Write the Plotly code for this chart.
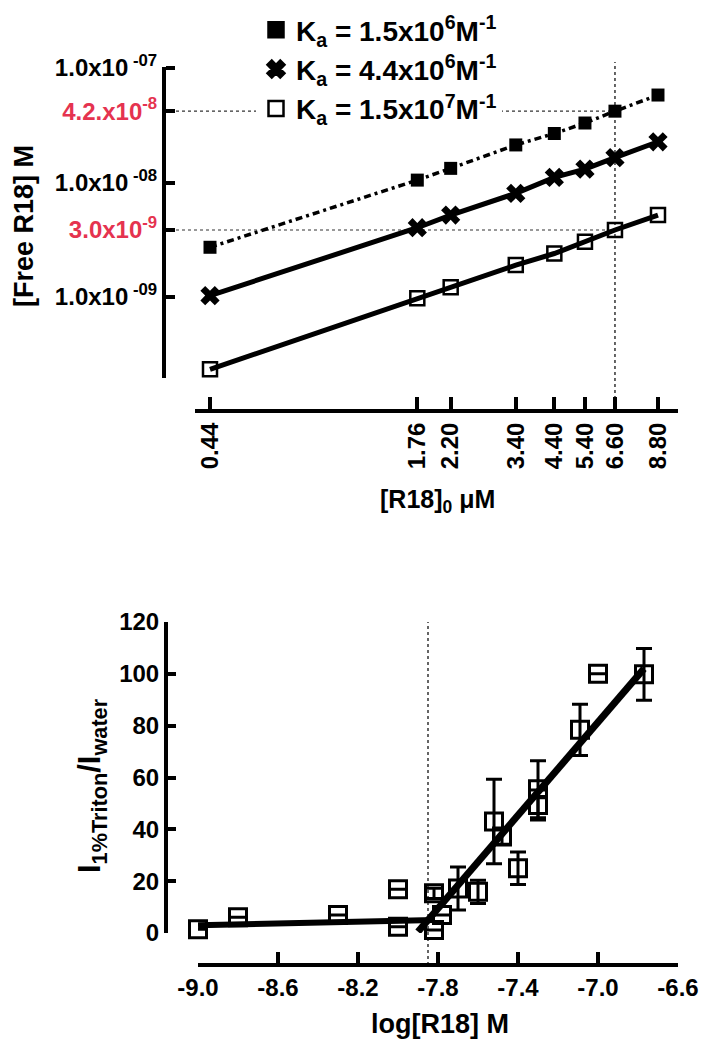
import plotly.graph_objects as go
import math

# ---------------- data: top panel ----------------
r18_total_uM = [0.44, 1.76, 2.20, 3.40, 4.40, 5.40, 6.60, 8.80]
free_ka_15e6 = [2.72e-9, 1.05e-8, 1.33e-8, 2.13e-8, 2.68e-8, 3.31e-8, 4.2e-8, 5.81e-8]
free_ka_44e6 = [1.03e-9, 4.03e-9, 5.20e-9, 8.05e-9, 1.11e-8, 1.31e-8, 1.65e-8, 2.27e-8]
free_ka_15e7 = [2.34e-10, 9.75e-10, 1.22e-9, 1.90e-9, 2.40e-9, 3.04e-9, 3.85e-9, 5.20e-9]
x_tick_labels = ["0.44", "1.76", "2.20", "3.40", "4.40", "5.40", "6.60", "8.80"]
legend_names = [
    "K<sub>a</sub> = 1.5x10<sup>6</sup>M<sup>-1</sup>",
    "K<sub>a</sub> = 4.4x10<sup>6</sup>M<sup>-1</sup>",
    "K<sub>a</sub> = 1.5x10<sup>7</sup>M<sup>-1</sup>",
]
ref_index = 6  # 6.60 uM reference
y_tick_text = ["1.0x10<sup> -07</sup>", "4.2.x10<sup>-8</sup>", "1.0x10<sup> -08</sup>",
               "3.0x10<sup>-9</sup>", "1.0x10<sup> -09</sup>"]

# ---------------- data: bottom panel ----------------
log_r18 = [-9.0, -8.8, -8.3, -8.0, -8.0, -7.82, -7.82, -7.78, -7.70, -7.60,
           -7.52, -7.48, -7.40, -7.30, -7.30, -7.09, -7.0, -6.77]
intensity_ratio = [1.4, 6.1, 6.9, 16.9, 2.4, 15.3, 1.2, 6.9, 17.2, 15.9,
                   43.0, 37.2, 25.0, 49.4, 55.5, 78.4, 100.0, 99.8]
ratio_err = [0, 0, 0, 0, 0, 2.0, 0, 0, 8.3, 4.5,
             16.3, 3.0, 6.3, 5.8, 11.0, 9.9, 0, 10.0]
fit_low_x = [-9.0, -7.82]
fit_low_y = [3.0, 5.0]
fit_high_x = [-7.9, -6.77]
fit_high_y = [0.5, 102.0]
threshold_log = -7.85
bottom_x_ticks = [-9.0, -8.6, -8.2, -7.8, -7.4, -7.0, -6.6]
bottom_y_ticks = [0, 20, 40, 60, 80, 100, 120]

W, H = 709, 1050
RED = "#e5334f"
FONT = "Liberation Sans, Arial, sans-serif"

def px(v):
    return v / W

def py(v):
    return 1 - v / H

fig = go.Figure()

# top panel traces
fig.add_trace(go.Scatter(x=r18_total_uM, y=free_ka_15e6, mode="lines+markers",
                         line=dict(color="black", width=3.5, dash="7px,4px,3px,4px"),
                         marker=dict(symbol="square", size=13, color="black"),
                         showlegend=False, cliponaxis=False))
fig.add_trace(go.Scatter(x=r18_total_uM, y=free_ka_44e6, mode="lines+markers",
                         line=dict(color="black", width=5),
                         marker=dict(symbol="x", size=17, color="black"),
                         showlegend=False, cliponaxis=False))
fig.add_trace(go.Scatter(x=r18_total_uM, y=free_ka_15e7, mode="lines+markers",
                         line=dict(color="black", width=5),
                         marker=dict(symbol="square-open", size=14, color="black",
                                     line=dict(width=2.5, color="black")),
                         showlegend=False, cliponaxis=False))
# legend-only entries
for i, (sym, name) in enumerate(zip(["square", "x", "square-open"], legend_names)):
    fig.add_trace(go.Scatter(x=[None], y=[None], mode="markers", name=name,
                             legendgroup=str(i),
                             marker=dict(symbol=sym, size=15, color="black",
                                         line=dict(width=2.5, color="black"))))

# bottom panel traces
fig.add_trace(go.Scatter(x=fit_low_x, y=fit_low_y, mode="lines", xaxis="x2", yaxis="y2",
                         line=dict(color="black", width=6), showlegend=False))
fig.add_trace(go.Scatter(x=fit_high_x, y=fit_high_y, mode="lines", xaxis="x2", yaxis="y2",
                         line=dict(color="black", width=7), showlegend=False, cliponaxis=False))
fig.add_trace(go.Scatter(x=log_r18, y=intensity_ratio, mode="markers", xaxis="x2", yaxis="y2",
                         marker=dict(symbol="square-open", size=17, color="black",
                                     line=dict(width=3, color="black")),
                         error_y=dict(type="data", array=ratio_err, visible=True,
                                      color="black", thickness=3, width=8),
                         showlegend=False, cliponaxis=False))

# geometry
top_xdom = [px(195), px(678)]
top_xrange = [-0.4001, 1.0026]
top_ydom = [py(378), py(67)]
top_yrange = [-9.707, -6.991]
bot_xdom = [px(198), px(678)]
bot_ydom = [py(933), py(622)]

fig.update_layout(
    width=W, height=H,
    margin=dict(l=0, r=0, t=0, b=0, pad=0, autoexpand=False),
    paper_bgcolor="white", plot_bgcolor="white",
    font=dict(family=FONT, color="black"),
    showlegend=True,
    legend=dict(x=px(256), y=py(5), xanchor="left", yanchor="top",
                bgcolor="white", font=dict(family=FONT, size=28, color="black", weight="bold"),
                tracegroupgap=0, itemwidth=30),
    xaxis=dict(type="log", domain=top_xdom, range=top_xrange, anchor="free",
               position=py(411), showgrid=False, zeroline=False, automargin=False,
               showline=True, linewidth=4, linecolor="black",
               ticks="inside", ticklen=12, tickwidth=4, tickcolor="black",
               tickvals=r18_total_uM, ticktext=x_tick_labels, tickangle=-90,
               tickfont=dict(family=FONT, size=24, color="black", weight="bold")),
    yaxis=dict(type="log", domain=top_ydom, range=top_yrange, anchor="free",
               position=px(164), showgrid=False, zeroline=False, automargin=False,
               showline=True, linewidth=4, linecolor="black",
               ticks="inside", ticklen=9, tickwidth=4, tickcolor="black",
               tickvals=[1e-7, free_ka_15e6[ref_index], 1e-8, free_ka_15e7[ref_index], 1e-9],
               ticktext=[y_tick_text[0],
                         f"<span style='color:{RED}'>{y_tick_text[1]}</span>",
                         y_tick_text[2],
                         f"<span style='color:{RED}'>{y_tick_text[3]}</span>",
                         y_tick_text[4]],
               tickfont=dict(family=FONT, size=24, color="black", weight="bold")),
    xaxis2=dict(domain=bot_xdom, range=[bottom_x_ticks[0], bottom_x_ticks[-1]], anchor="free",
                position=py(965), showgrid=False, zeroline=False, automargin=False,
                showline=True, linewidth=4, linecolor="black",
                ticks="inside", ticklen=11, tickwidth=4, tickcolor="black",
                tickvals=bottom_x_ticks, ticktext=[f"{v:.1f}" for v in bottom_x_ticks],
                tickfont=dict(family=FONT, size=24, color="black", weight="bold")),
    yaxis2=dict(domain=bot_ydom, range=[bottom_y_ticks[0], bottom_y_ticks[-1]], anchor="free",
                position=px(166), showgrid=False, zeroline=False, automargin=False,
                showline=True, linewidth=4, linecolor="black",
                ticks="inside", ticklen=8, tickwidth=4, tickcolor="black",
                tickvals=bottom_y_ticks,
                tickfont=dict(family=FONT, size=24, color="black", weight="bold")),
)

# reference dotted lines (top)
ref_x = r18_total_uM[ref_index]
ref_x_paper = top_xdom[0] + (math.log10(ref_x) - top_xrange[0]) / (top_xrange[1] - top_xrange[0]) * (top_xdom[1] - top_xdom[0])
fig.add_shape(type="line", xref="x", yref="paper", x0=ref_x, x1=ref_x, y0=py(411), y1=py(62),
              line=dict(color="#333", width=1.5, dash="dot"), layer="below")
for yv in [free_ka_15e6[ref_index], free_ka_15e7[ref_index]]:
    fig.add_shape(type="line", xref="paper", yref="y", x0=px(164), x1=ref_x_paper, y0=yv, y1=yv,
                  line=dict(color="#333", width=1.2, dash="dot"), layer="below")
# threshold dotted line (bottom)
fig.add_shape(type="line", xref="x2", yref="paper", x0=threshold_log, x1=threshold_log,
              y0=py(965), y1=py(622), line=dict(color="#333", width=1.5, dash="dot"), layer="below")

# titles
fig.add_annotation(text="[Free R18] M", x=px(24), y=py(226), xref="paper", yref="paper",
                   xanchor="center", yanchor="middle", textangle=-90, showarrow=False,
                   font=dict(family=FONT, size=27, color="black", weight="bold"))
fig.add_annotation(text="[R18]<sub>0</sub> μM", x=px(437), y=py(501), xref="paper", yref="paper",
                   xanchor="center", yanchor="middle", showarrow=False,
                   font=dict(family=FONT, size=25, color="black", weight="bold"))
fig.add_annotation(text="I<sub>1%Triton</sub>/I<sub>water</sub>", x=px(92), y=py(786),
                   xref="paper", yref="paper", xanchor="center", yanchor="middle",
                   textangle=-90, showarrow=False,
                   font=dict(family=FONT, size=31, color="black", weight="bold"))
fig.add_annotation(text="log[R18] M", x=px(440), y=py(1024), xref="paper", yref="paper",
                   xanchor="center", yanchor="middle", showarrow=False,
                   font=dict(family=FONT, size=27, color="black", weight="bold"))

fig.write_html("out.html", config={"displayModeBar": False},
               post_script="document.body.style.margin='0';")
